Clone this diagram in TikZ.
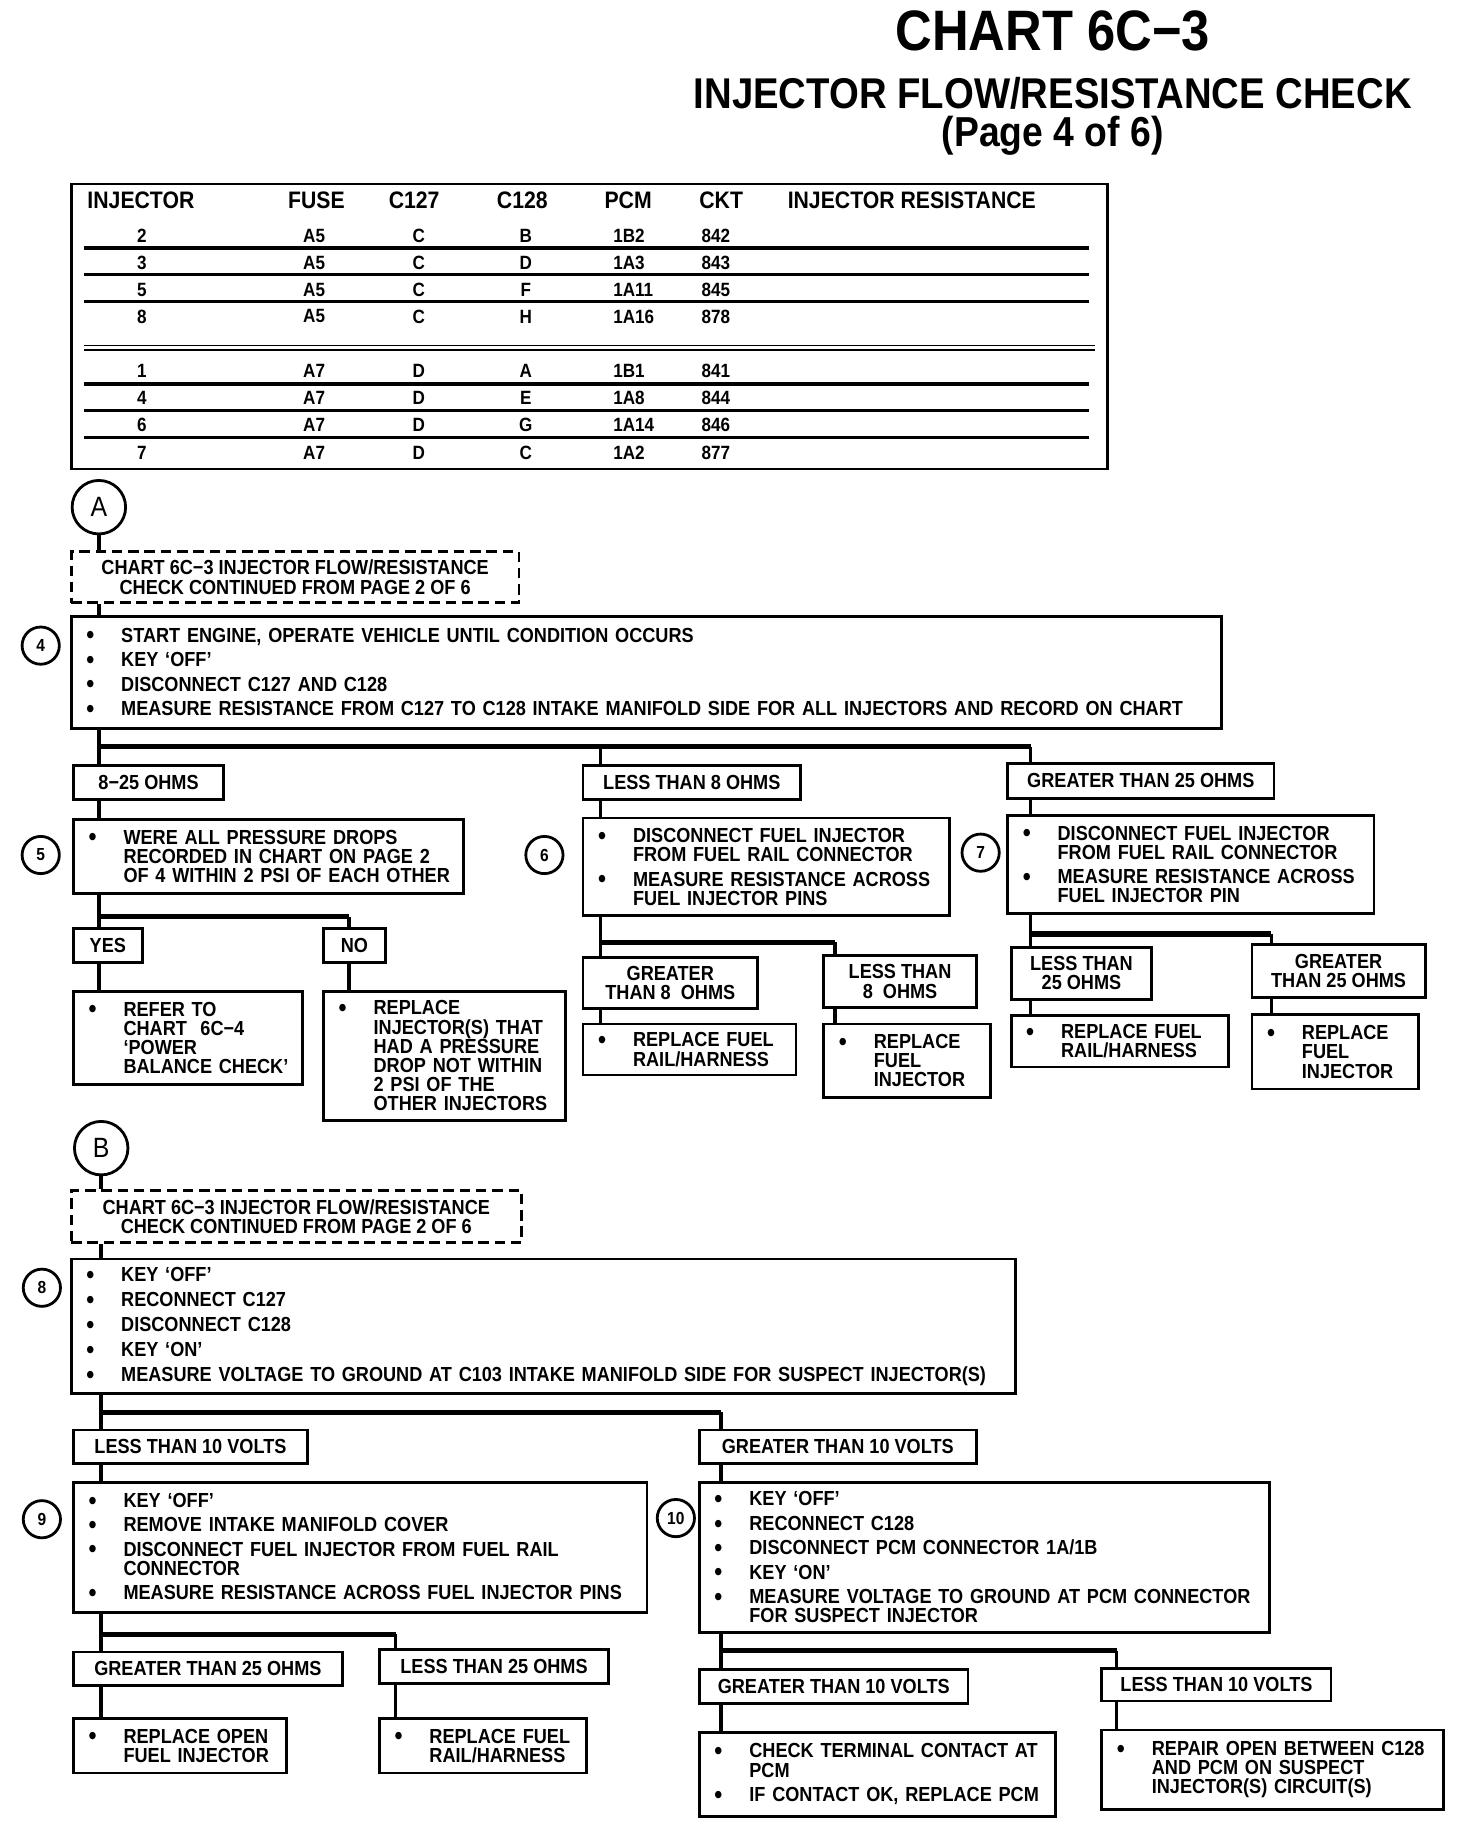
\documentclass[tikz,border=0pt]{standalone}
\usepackage{fontspec}
\setmainfont{Liberation Sans}[FakeStretch=0.89]
\usetikzlibrary{positioning}

\tikzset{
  txt/.style={font=\bfseries\fontsize{17.5}{16.5}\selectfont},
  box/.style 2 args={draw, line width=2.4pt, anchor=north west, inner xsep=4pt, inner ysep=0pt,
    text width=#1pt-8pt, minimum height=#2pt, align=left, txt},
  tag/.style 2 args={draw, line width=2.4pt, anchor=north west, inner sep=0pt,
    minimum width=#1pt, minimum height=#2pt, align=center, txt},
  cont/.style 2 args={tag={#1}{#2}, dash pattern=on 9pt off 5pt},
  stepno/.style={circle, draw, line width=2.4pt, minimum size=32pt, inner sep=0pt,
    font=\bfseries\fontsize{15}{15}\selectfont},
  letter/.style={circle, draw, line width=2.4pt, minimum size=46pt, inner sep=0pt,
    font=\fontsize{24}{24}\selectfont},
  link/.style={line width=3pt},
  bar/.style={line width=4.5pt},
  rule/.style={line width=3pt},
  hd/.style={font=\bfseries\fontsize{20.5}{20}\selectfont, inner sep=0pt},
  cell/.style={font=\bfseries\fontsize{16.5}{16}\selectfont, inner sep=0pt},
}
\newcommand{\bl}{\makebox[39pt][l]{\hspace{9pt}\raisebox{-1.5pt}{\fontsize{22}{10}\selectfont\textbullet}}}
\newcommand{\ind}{\hspace*{39pt}}

\begin{document}
\hyphenpenalty=10000
\exhyphenpenalty=10000
\begin{tikzpicture}[x=1pt,y=-1pt]
  \useasboundingbox (0,0) rectangle (1252,1568);
  % titulo
  \node[font=\bfseries\fontsize{49}{49}\selectfont, inner sep=0pt] (title) at (905,27) {CHART 6C−3};
  \node[font=\bfseries\fontsize{37}{37}\selectfont, inner sep=0pt] (sub) at (905,80) {INJECTOR FLOW/RESISTANCE CHECK};
  \node[font=\bfseries\fontsize{36}{36}\selectfont, inner sep=0pt] (page) at (905,117) {(Page 4 of 6)};

  % tabla de inyectores
  \node[draw, line width=2.4pt, anchor=north west, minimum width=891pt, minimum height=245pt, inner sep=0pt] (tbl) at (60,157) {};
  \node[hd, anchor=west] (hInj) at (75,172) {INJECTOR};
  \node[hd] (hFuse) at (272,172) {FUSE};
  \node[hd] (hA) at (356,172) {C127};
  \node[hd] (hB) at (449,172) {C128};
  \node[hd] (hPcm) at (540,172) {PCM};
  \node[hd] (hCkt) at (620,172) {CKT};
  \node[hd, anchor=west] (hRes) at (677,172) {INJECTOR RESISTANCE};
  \foreach \yy/\nn/\ff/\ca/\cb/\pc/\ck in {203/2/A5/C/B/1B2/842, 226/3/A5/C/D/1A3/843,
      249/5/A5/C/F/1A11/845, 272/8/A5/C/H/1A16/878, 319/1/A7/D/A/1B1/841,
      342/4/A7/D/E/1A8/844, 365/6/A7/D/G/1A14/846, 389/7/A7/D/C/1A2/877}{
    \node[cell] (r\nn-1) at (122,\yy) {\nn};
    \node[cell] (r\nn-2) at (270,\yy) {\ff};
    \node[cell] (r\nn-3) at (360,\yy) {\ca};
    \node[cell] (r\nn-4) at (452,\yy) {\cb};
    \node[cell, anchor=west] (r\nn-5) at (527,\yy) {\pc};
    \node[cell, anchor=west] (r\nn-6) at (603,\yy) {\ck};
  }
  \foreach \yy in {213,236,259,330,353,376}
    \draw[rule] (72,\yy) -- (936,\yy);
  \draw[line width=1.6pt] (72,297) -- (941,297) (72,301) -- (941,301);

  % seccion A
  \coordinate (cA) at (85,0);   \coordinate (c6) at (516,0);
  \coordinate (c7) at (886,0);  \coordinate (cNo) at (300,0);
  \coordinate (c6b) at (718,0); \coordinate (c7b) at (1093,0);
  \coordinate (j4) at (0,642);  \coordinate (j5) at (0,788);
  \coordinate (j6) at (0,810);  \coordinate (j7) at (0,803);

  \node[letter] (A) at (85,436) {A};
  \node[cont={385}{44}] (cont1) at (60,473) {CHART 6C−3 INJECTOR FLOW/RESISTANCE\\CHECK CONTINUED FROM PAGE 2 OF 6};
  \node[box={989}{96}] (b4) at (60,529) {\bl START ENGINE, OPERATE VEHICLE UNTIL CONDITION OCCURS\\[4.5pt]
    \bl KEY ‘OFF’\\[4.5pt]
    \bl DISCONNECT C127 AND C128\\[4.5pt]
    \bl MEASURE RESISTANCE FROM C127 TO C128 INTAKE MANIFOLD SIDE FOR ALL INJECTORS AND RECORD ON CHART};
  \node[stepno] (s4) at (35,555) {4};

  \node[tag={129}{29}] (l825) at (62,657) {8−25 OHMS};
  \node[tag={187}{29}] (llt8) at (500,657) {LESS THAN 8 OHMS};
  \node[tag={229}{30}] (lgt25) at (865,655) {GREATER THAN 25 OHMS};

  \node[box={335}{64}] (b5) at (62,703) {\bl WERE ALL PRESSURE DROPS\\
    \ind RECORDED IN CHART ON PAGE 2\\
    \ind OF 4 WITHIN 2 PSI OF EACH OTHER};
  \node[stepno] (s5) at (35,735) {5};
  \node[box={315}{84}] (b6) at (500,702) {\bl DISCONNECT FUEL INJECTOR\\
    \ind FROM FUEL RAIL CONNECTOR\\[4.5pt]
    \bl MEASURE RESISTANCE ACROSS\\
    \ind FUEL INJECTOR PINS};
  \node[stepno] (s6) at (468,735) {6};
  \node[box={315}{84}] (b7) at (865,700) {\bl DISCONNECT FUEL INJECTOR\\
    \ind FROM FUEL RAIL CONNECTOR\\[4.5pt]
    \bl MEASURE RESISTANCE ACROSS\\
    \ind FUEL INJECTOR PIN};
  \node[stepno] (s7) at (843,733) {7};

  \node[tag={59}{29}] (yes) at (62,797) {YES};
  \node[tag={53}{29}] (no) at (277,797) {NO};
  \node[box={197}{80}] (refer) at (62,851) {\bl REFER TO\\ \ind CHART~ 6C−4\\ \ind ‘POWER\\ \ind BALANCE CHECK’};
  \node[box={208}{111}] (repl) at (277,851) {\bl REPLACE\\ \ind INJECTOR(S) THAT\\ \ind HAD A PRESSURE\\
    \ind DROP NOT WITHIN\\ \ind 2 PSI OF THE\\ \ind OTHER INJECTORS};

  \node[tag={150}{44}] (gt8) at (500,822) {GREATER\\THAN 8~ OHMS};
  \node[tag={131}{45}] (lt8) at (707,820) {LESS THAN\\8~ OHMS};
  \node[box={183}{44}] (r6a) at (500,879) {\bl REPLACE FUEL\\ \ind RAIL/HARNESS};
  \node[box={143}{63}] (r6b) at (707,879) {\bl REPLACE\\ \ind FUEL\\ \ind INJECTOR};

  \node[tag={121}{45}] (lt25) at (868,813) {LESS THAN\\25 OHMS};
  \node[tag={149}{45}] (gt25) at (1075,811) {GREATER\\THAN 25 OHMS};
  \node[box={187}{44}] (r7a) at (868,872) {\bl REPLACE FUEL\\ \ind RAIL/HARNESS};
  \node[box={143}{64}] (r7b) at (1075,871) {\bl REPLACE\\ \ind FUEL\\ \ind INJECTOR};

  \draw[link] (A) -- (A |- cont1.north);
  \draw[link] (cont1.south -| A) -- (A |- b4.north);
  \draw[link] (b4.south -| cA) -- (cA |- l825.north);
  \draw[bar] (cA |- j4) -- (c7 |- j4);
  \draw[link] (c6 |- j4) -- (c6 |- llt8.north);
  \draw[link] (c7 |- j4) -- (c7 |- lgt25.north);
  \draw[link] (l825.south -| cA) -- (cA |- b5.north);
  \draw[link] (llt8.south -| c6) -- (c6 |- b6.north);
  \draw[link] (lgt25.south -| c7) -- (c7 |- b7.north);
  \draw[link] (b5.south -| cA) -- (cA |- yes.north);
  \draw[bar] (cA |- j5) -- (cNo |- j5);
  \draw[link] (cNo |- j5) -- (cNo |- no.north);
  \draw[link] (yes.south -| cA) -- (cA |- refer.north);
  \draw[link] (no.south -| cNo) -- (cNo |- repl.north);
  \draw[link] (b6.south -| c6) -- (c6 |- gt8.north);
  \draw[bar] (c6 |- j6) -- (c6b |- j6);
  \draw[link] (c6b |- j6) -- (c6b |- lt8.north);
  \draw[link] (gt8.south -| c6) -- (c6 |- r6a.north);
  \draw[link] (lt8.south -| c6b) -- (c6b |- r6b.north);
  \draw[link] (b7.south -| c7) -- (c7 |- lt25.north);
  \draw[bar] (c7 |- j7) -- (c7b |- j7);
  \draw[link] (c7b |- j7) -- (c7b |- gt25.north);
  \draw[link] (lt25.south -| c7) -- (c7 |- r7a.north);
  \draw[link] (gt25.south -| c7b) -- (c7b |- r7b.north);

  % seccion B
  \coordinate (cB) at (87,0);   \coordinate (c10) at (620,0);
  \coordinate (c9b) at (340,0); \coordinate (c10b) at (960,0);
  \coordinate (j8) at (0,1214); \coordinate (j9) at (0,1405);
  \coordinate (j10) at (0,1419);

  \node[letter] (B) at (87,987) {B};
  \node[cont={387}{45}] (cont2) at (60,1022) {CHART 6C−3 INJECTOR FLOW/RESISTANCE\\CHECK CONTINUED FROM PAGE 2 OF 6};
  \node[box={812}{116}] (b8) at (60,1081) {\bl KEY ‘OFF’\\[5pt]
    \bl RECONNECT C127\\[5pt]
    \bl DISCONNECT C128\\[5pt]
    \bl KEY ‘ON’\\[5pt]
    \bl MEASURE VOLTAGE TO GROUND AT C103 INTAKE MANIFOLD SIDE FOR SUSPECT INJECTOR(S)};
  \node[stepno] (s8) at (36,1107) {8};

  \node[tag={201}{29}] (llt10) at (62,1228) {LESS THAN 10 VOLTS};
  \node[tag={238}{29}] (lgt10) at (600,1228) {GREATER THAN 10 VOLTS};

  \node[box={493}{112}] (b9) at (62,1273) {\bl KEY ‘OFF’\\[4.5pt]
    \bl REMOVE INTAKE MANIFOLD COVER\\[4.5pt]
    \bl DISCONNECT FUEL INJECTOR FROM FUEL RAIL\\ \ind CONNECTOR\\[4.5pt]
    \bl MEASURE RESISTANCE ACROSS FUEL INJECTOR PINS};
  \node[stepno] (s9) at (36,1306) {9};
  \node[box={490}{129}] (b10) at (600,1273) {\bl KEY ‘OFF’\\[4.5pt]
    \bl RECONNECT C128\\[4.5pt]
    \bl DISCONNECT PCM CONNECTOR 1A/1B\\[4.5pt]
    \bl KEY ‘ON’\\[4.5pt]
    \bl MEASURE VOLTAGE TO GROUND AT PCM CONNECTOR\\ \ind FOR SUSPECT INJECTOR};
  \node[stepno] (s10) at (581,1305) {10};

  \node[tag={231}{29}] (gt25b) at (62,1419) {GREATER THAN 25 OHMS};
  \node[tag={197}{29}] (lt25b) at (325,1417) {LESS THAN 25 OHMS};
  \node[box={183}{47}] (r9a) at (62,1476) {\bl REPLACE OPEN\\ \ind FUEL INJECTOR};
  \node[box={178}{47}] (r9b) at (325,1476) {\bl REPLACE FUEL\\ \ind RAIL/HARNESS};

  \node[tag={231}{29}] (gt10b) at (600,1434) {GREATER THAN 10 VOLTS};
  \node[tag={197}{28}] (lt10b) at (946,1433) {LESS THAN 10 VOLTS};
  \node[box={306}{72}] (r10a) at (600,1488) {\bl CHECK TERMINAL CONTACT AT\\ \ind PCM\\[4.5pt]
    \bl IF CONTACT OK, REPLACE PCM};
  \node[box={294}{68}] (r10b) at (946,1486) {\bl REPAIR OPEN BETWEEN C128\\ \ind AND PCM ON SUSPECT\\
    \ind INJECTOR(S) CIRCUIT(S)};

  \draw[link] (B) -- (B |- cont2.north);
  \draw[link] (cont2.south -| B) -- (B |- b8.north);
  \draw[link] (b8.south -| cB) -- (cB |- llt10.north);
  \draw[bar] (cB |- j8) -- (c10 |- j8);
  \draw[link] (c10 |- j8) -- (c10 |- lgt10.north);
  \draw[link] (llt10.south -| cB) -- (cB |- b9.north);
  \draw[link] (lgt10.south -| c10) -- (c10 |- b10.north);
  \draw[link] (b9.south -| cB) -- (cB |- gt25b.north);
  \draw[bar] (cB |- j9) -- (c9b |- j9);
  \draw[link] (c9b |- j9) -- (c9b |- lt25b.north);
  \draw[link] (gt25b.south -| cB) -- (cB |- r9a.north);
  \draw[link] (lt25b.south -| c9b) -- (c9b |- r9b.north);
  \draw[link] (b10.south -| c10) -- (c10 |- gt10b.north);
  \draw[bar] (c10 |- j10) -- (c10b |- j10);
  \draw[link] (c10b |- j10) -- (c10b |- lt10b.north);
  \draw[link] (gt10b.south -| c10) -- (c10 |- r10a.north);
  \draw[link] (lt10b.south -| c10b) -- (c10b |- r10b.north);
\end{tikzpicture}
\end{document}
